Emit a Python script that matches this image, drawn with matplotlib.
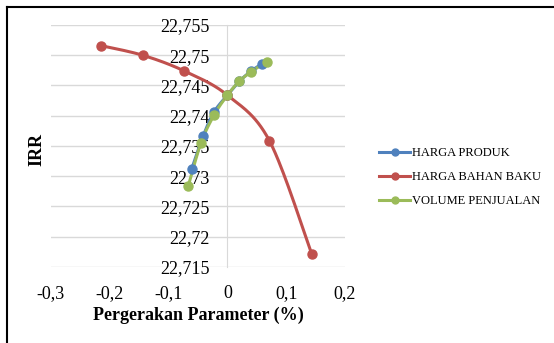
import numpy as np
import matplotlib
matplotlib.use("Agg")
import matplotlib.pyplot as plt
from matplotlib.lines import Line2D
from matplotlib.ticker import FuncFormatter, MultipleLocator

# Data
harga_produk_x = [-0.0607, -0.0410, -0.0228, 0.0, 0.0203, 0.0407, 0.0589]
harga_produk_y = [22.7312, 22.7367, 22.7406, 22.7434, 22.7457, 22.7474, 22.7486]

bahan_baku_x = [-0.2155, -0.1440, -0.0733, 0.0, 0.0713, 0.1433]
bahan_baku_y = [22.7516, 22.7500, 22.7474, 22.7434, 22.7359, 22.7172]

volume_x = [-0.0665, -0.0450, -0.0228, 0.0, 0.0203, 0.0407, 0.0668]
volume_y = [22.7284, 22.7355, 22.7401, 22.7434, 22.7457, 22.7473, 22.7489]

series_names = ["HARGA PRODUK", "HARGA BAHAN BAKU", "VOLUME PENJUALAN"]
series_colors = ["#4F81BD", "#C0504D", "#9BBB59"]

plt.rcParams["font.family"] = ["Liberation Serif", "DejaVu Serif"]


# Excel-like smoothed line (Catmull-Rom through the points)
def smooth(xs, ys, n=30):
    p = np.column_stack([xs, ys])
    p = np.vstack([p[0], p, p[-1]])
    out = []
    for i in range(1, len(p) - 2):
        p0, p1, p2, p3 = p[i - 1], p[i], p[i + 1], p[i + 2]
        for t in np.linspace(0, 1, n, endpoint=False):
            t2, t3 = t * t, t * t * t
            pt = 0.5 * ((2 * p1) + (-p0 + p2) * t + (2 * p0 - 5 * p1 + 4 * p2 - p3) * t2
                        + (-p0 + 3 * p1 - 3 * p2 + p3) * t3)
            out.append(pt)
    out.append(p[-2])
    out = np.array(out)
    return out[:, 0], out[:, 1]


fig = plt.figure(figsize=(5.54, 3.43), dpi=100)
ax = fig.add_axes([51 / 554, 1 - 267 / 343, 294 / 554, 242 / 343])

all_series = [(harga_produk_x, harga_produk_y), (bahan_baku_x, bahan_baku_y), (volume_x, volume_y)]
for (xs, ys), name, col in zip(all_series, series_names, series_colors):
    sx, sy = smooth(xs, ys)
    ax.plot(sx, sy, color=col, lw=2.2, zorder=3)
    ax.plot(xs, ys, "o", color=col, ms=6.5, zorder=4)

ax.set_xlim(-0.3, 0.2)
ax.set_ylim(22.715, 22.755)
ax.xaxis.set_major_locator(MultipleLocator(0.1))
ax.yaxis.set_major_locator(MultipleLocator(0.005))


def fmt_y(v, pos):
    s = f"{v:.3f}".rstrip("0").rstrip(".")
    return s.replace(".", ",")


def fmt_x(v, pos):
    s = f"{v:.1f}"
    if abs(v) < 1e-9:
        return "0"
    return s.replace(".", ",")


ax.yaxis.set_major_formatter(FuncFormatter(fmt_y))
ax.xaxis.set_major_formatter(FuncFormatter(fmt_x))
ax.grid(axis="y", color="#d9d9d9", lw=1)
ax.set_axisbelow(True)

for s in ["top", "right", "bottom"]:
    ax.spines[s].set_visible(False)
ax.spines["left"].set_position(("data", 0))
ax.spines["left"].set_color("#d9d9d9")
ax.tick_params(axis="both", length=0, labelsize=13)
ax.tick_params(axis="y", pad=13)
ax.tick_params(axis="x", pad=13)

fig.text(198 / 554, 1 - 315 / 343, "Pergerakan Parameter (%)", ha="center", va="center",
         fontsize=13, fontweight="bold")
fig.text(37 / 554, 1 - 150 / 343, "IRR", ha="center", va="center", rotation=90,
         fontsize=13, fontweight="bold")

handles = [Line2D([0], [0], color=c, lw=2.2, marker="o", ms=5) for c in series_colors]
fig.legend(handles, series_names, loc="center left", bbox_to_anchor=(379 / 554, 1 - 177 / 343),
           frameon=False, fontsize=9, handlelength=2.5, handletextpad=0.15, labelspacing=0.95,
           borderpad=0, borderaxespad=0)

# partial chart border (top and left)
fig.add_artist(Line2D([7 / 554, 1], [1 - 7 / 343, 1 - 7 / 343], color="black", lw=1.5))
fig.add_artist(Line2D([7 / 554, 7 / 554], [0, 1 - 7 / 343], color="black", lw=1.5))

fig.savefig("out.png", dpi=100)
